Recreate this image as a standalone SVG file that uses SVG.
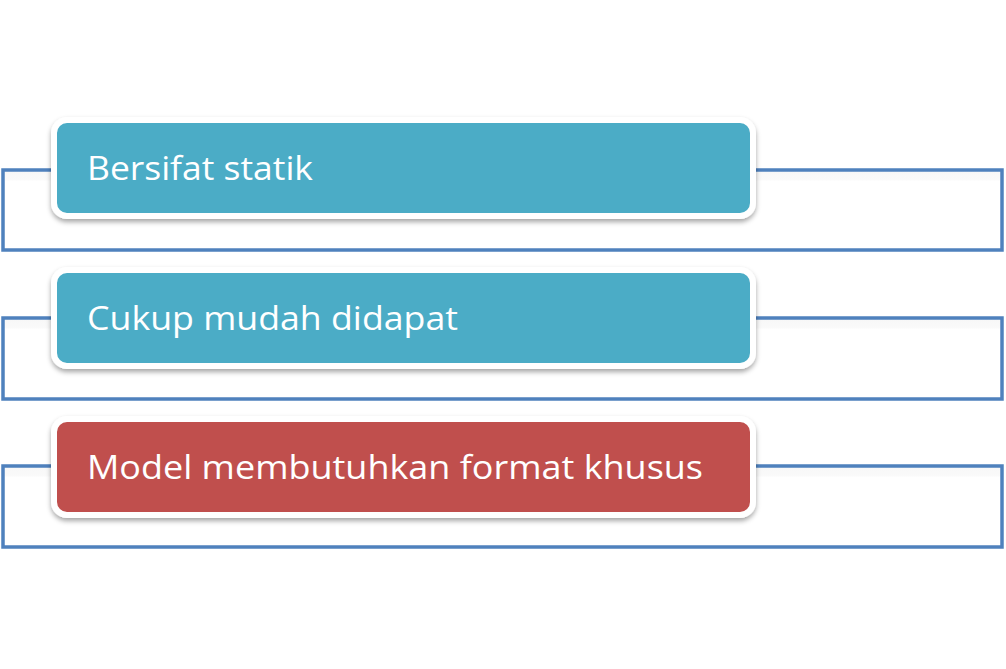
<svg xmlns="http://www.w3.org/2000/svg" width="1006" height="669" viewBox="0 0 1006 669">
<defs>
<style>
.frame{fill:url(#band);stroke:#4F81BD;stroke-width:3.5}
.box{stroke:#FFFFFF;stroke-width:6;filter:url(#sh)}
.teal{fill:#4BACC6}
.red{fill:#C0504D}
.lbl{font-family:"Open Sans","Noto Sans",sans-serif;font-size:33px;fill:#FFFFFF}
</style>
<linearGradient id="band" x1="0" y1="0" x2="0" y2="1">
<stop offset="0" stop-color="#F7F7F7"/>
<stop offset="0.12" stop-color="#FAFAFA"/>
<stop offset="0.14" stop-color="#FFFFFF"/>
<stop offset="1" stop-color="#FFFFFF"/>
</linearGradient>
<filter id="sh" x="-5%" y="-20%" width="110%" height="150%">
<feDropShadow dx="0" dy="3" stdDeviation="2.5" flood-color="#000" flood-opacity="0.35"/>
</filter>
</defs>
<rect width="1006" height="669" fill="#FFFFFF"/>
<g id="connectors">
<rect class="frame" x="3" y="170" width="999" height="80"/>
<rect class="frame" x="3" y="318" width="999" height="81"/>
<rect class="frame" x="3" y="466" width="999" height="81"/>
</g>
<g id="node1">
<rect class="box teal" x="54" y="120" width="699" height="96" rx="13"/>
<text class="lbl" x="87" y="180" textLength="226" lengthAdjust="spacingAndGlyphs">Bersifat statik</text>
</g>
<g id="node2">
<rect class="box teal" x="54" y="270" width="699" height="96" rx="13"/>
<text class="lbl" x="87" y="330" textLength="371" lengthAdjust="spacingAndGlyphs">Cukup mudah didapat</text>
</g>
<g id="node3">
<rect class="box red" x="54" y="419" width="699" height="96" rx="13"/>
<text class="lbl" x="87" y="479" textLength="616" lengthAdjust="spacingAndGlyphs">Model membutuhkan format khusus</text>
</g>
</svg>
